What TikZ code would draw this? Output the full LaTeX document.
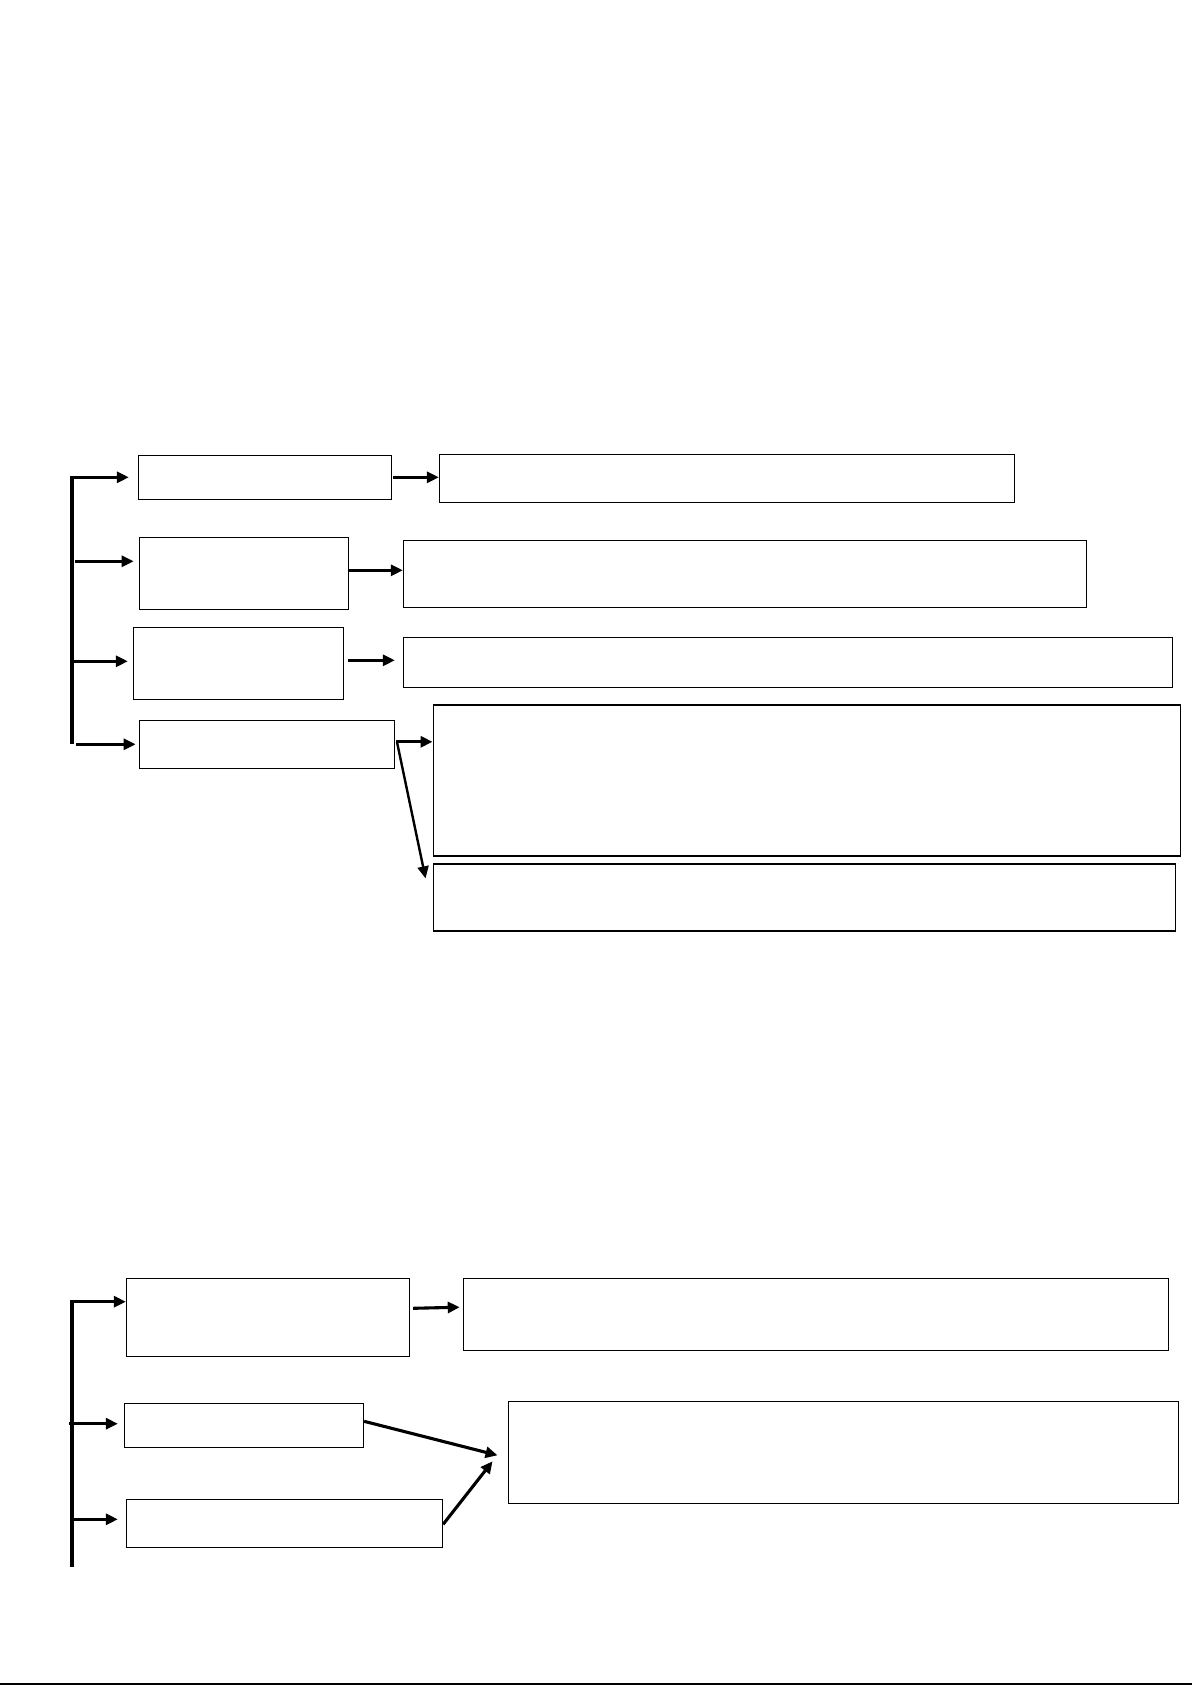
\documentclass[tikz,border=0pt]{standalone}
\usepackage{tikz}
\usetikzlibrary{arrows.meta, positioning}

\begin{document}
\begin{tikzpicture}[x=1pt, y=-1pt, >={Triangle[length=12pt,width=11pt]},
    box/.style={draw, line width=1.3pt, rectangle, inner sep=0pt},
    link/.style={->, line width=3.1pt},
    thin link/.style={->, line width=2.4pt}]
  \useasboundingbox (0,0) rectangle (1192,1685);
  % upper group
  \node[box, minimum width=253pt, minimum height=44pt] (a1) at (265,477.3) {};
  \node[box, minimum width=575pt, minimum height=48pt] (b1) at (727,478.4) {};
  \node[box, minimum width=209pt, minimum height=72pt] (a2) at (243.8,573.3) {};
  \node[box, minimum width=683pt, minimum height=67pt] (b2) at (745,573.8) {};
  \node[box, minimum width=210pt, minimum height=72pt] (a3) at (238.5,663.3) {};
  \node[box, minimum width=769pt, minimum height=50pt] (b3) at (788,662.3) {};
  \node[box, minimum width=255pt, minimum height=48pt] (a4) at (266.8,744.3) {};
  \node[box, minimum width=747pt, minimum height=151pt] (b4) at (806.7,780.5) {};
  \node[box, minimum width=742pt, minimum height=67pt] (b5) at (804.2,897.5) {};
  \coordinate (u0) at (72,743.5);
  \draw[link] (u0) |- ([xshift=-9pt]a1.west);
  \draw[link] ([xshift=3pt,yshift=12pt]a2.west -| u0) -- ([xshift=-5pt,yshift=12pt]a2.west);
  \draw[link] ([yshift=2pt]a3.west -| u0) -- ([xshift=-5pt,yshift=2pt]a3.west);
  \draw[link] ([xshift=4pt]a4.west -| u0) -- ([xshift=-3pt]a4.west);
  \draw[link] ([xshift=1pt]a1.east) -- (a1.east -| b1.west);
  \draw[link] ([yshift=3pt]a2.east) -- ([yshift=3pt]a2.east -| b2.west);
  \draw[link] ([xshift=4pt,yshift=3pt]a3.east) -- ([xshift=-8pt,yshift=3pt]a3.east -| b3.west);
  \draw[link] ([xshift=1pt,yshift=2.5pt]a4.east) -- ([yshift=2.5pt]a4.east -| b4.west);
  \draw[thin link] ([xshift=2pt,yshift=2.5pt]a4.east) -- ([xshift=-7pt,yshift=-15pt]b5.north west);
  % lower group
  \node[box, minimum width=283pt, minimum height=78pt] (c1) at (268,1317.3) {};
  \node[box, minimum width=705pt, minimum height=72pt] (d1) at (815.9,1314.2) {};
  \node[box, minimum width=239pt, minimum height=44pt] (c2) at (244,1425.3) {};
  \node[box, minimum width=670pt, minimum height=102pt] (d2) at (843.2,1452.3) {};
  \node[box, minimum width=316pt, minimum height=48pt] (c3) at (284.5,1523.3) {};
  \coordinate (l0) at (72,1566.7);
  \draw[link] (l0) |- ([yshift=15.6pt]c1.west);
  \draw[link] ([xshift=-3pt,yshift=1.6pt]c2.west -| l0) -- ([xshift=-6pt,yshift=1.6pt]c2.west);
  \draw[link] ([yshift=4pt]c3.west -| l0) -- ([xshift=-8pt,yshift=4pt]c3.west);
  \draw[link] ([xshift=3pt,yshift=9pt]c1.east) -- ([xshift=-3pt,yshift=7pt]d1.west);
  \draw[link] ([yshift=4pt]c2.east) -- ([xshift=-10pt,yshift=-3pt]d2.west);
  \draw[link] ([yshift=-1pt]c3.east) -- ([xshift=-15pt,yshift=-9pt]d2.west);
  % page edge
  \draw[line width=1.5pt] (0,1684) -- (1192,1684);
\end{tikzpicture}
\end{document}
